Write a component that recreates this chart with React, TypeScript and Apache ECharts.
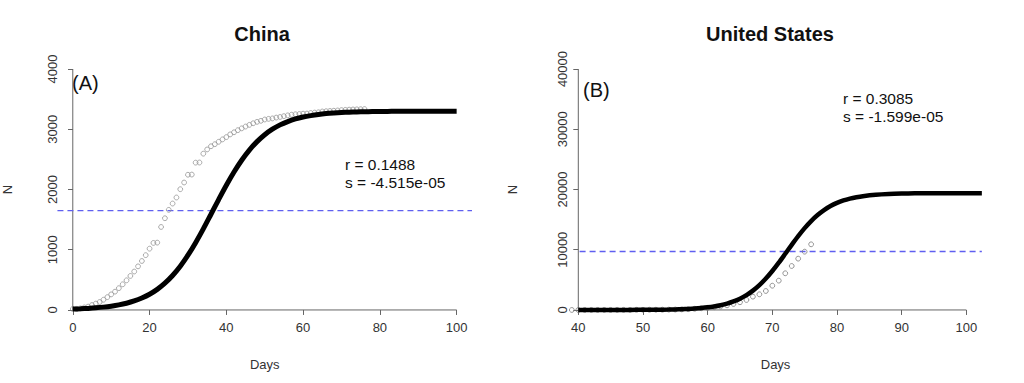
import React, { useEffect, useRef } from "react";
import * as echarts from "echarts";

// ---------- Data ----------
// Panel A: China
const chinaObsDays = [
  0, 1, 2, 3, 4, 5, 6, 7, 8, 9, 10, 11, 12, 13, 14, 15, 16, 17, 18, 19, 20, 21, 22, 23, 24, 25, 26, 27, 28, 29,
  30, 31, 32, 33, 34, 35, 36, 37, 38, 39, 40, 41, 42, 43, 44, 45, 46, 47, 48, 49, 50, 51, 52, 53, 54, 55, 56, 57,
  58, 59, 60, 61, 62, 63, 64, 65, 66, 67, 68, 69, 70, 71, 72, 73, 74, 75, 76,
];
const chinaObsN = [
  17, 18, 26, 42, 56, 82, 106, 132, 170, 213, 259, 304, 362, 426, 492, 565, 638, 724, 813, 910, 1018, 1113, 1118,
  1378, 1523, 1662, 1767, 1867, 2005, 2116, 2245, 2248, 2446, 2448, 2595, 2665, 2718, 2752, 2792, 2832, 2870, 2915,
  2950, 2985, 3015, 3045, 3073, 3100, 3123, 3140, 3162, 3173, 3180, 3194, 3204, 3218, 3231, 3242, 3249, 3253, 3259,
  3261, 3270, 3277, 3282, 3295, 3300, 3304, 3308, 3312, 3318, 3322, 3326, 3329, 3331, 3333, 3335,
];
const chinaFitDays = [
  0, 2, 4, 6, 8, 10, 12, 14, 16, 18, 20, 22, 24, 26, 28, 30, 32, 34, 36, 38, 40, 42, 44, 46, 48, 50, 52, 54, 56, 58,
  60, 62, 64, 66, 68, 70, 72, 74, 76, 78, 80, 82, 84, 86, 88, 90, 92, 94, 96, 98, 100,
];
const chinaFitN = [
  14, 19, 26, 35, 47, 63, 84, 112, 149, 198, 261, 342, 445, 572, 726, 909, 1117, 1346, 1589, 1833, 2070, 2290, 2486,
  2654, 2795, 2910, 3001, 3073, 3128, 3171, 3203, 3227, 3246, 3260, 3270, 3278, 3284, 3288, 3291, 3294, 3295, 3297,
  3298, 3298, 3299, 3299, 3299, 3300, 3300, 3300, 3300,
];
const chinaHalfK = 1650;
const chinaHalfKSpan = [-4, 104];
const chinaXTicks = [0, 20, 40, 60, 80, 100];
const chinaYTicks = [0, 1000, 2000, 3000, 4000];
const chinaParams = ["r = 0.1488", "s = -4.515e-05"];

// Panel B: United States
const usObsDays = [
  39, 40, 41, 42, 43, 44, 45, 46, 47, 48, 49, 50, 51, 52, 53, 54, 55, 56, 57, 58, 59, 60, 61, 62, 63, 64, 65, 66, 67,
  68, 69, 70, 71, 72, 73, 74, 75, 76,
];
const usObsN = [
  1, 1, 2, 6, 9, 11, 12, 15, 19, 22, 26, 30, 38, 41, 48, 58, 73, 99, 133, 200, 280, 360, 450, 580, 770, 1000, 1280,
  1660, 2210, 2600, 3150, 4030, 4870, 6090, 7300, 8520, 9680, 10900,
];
const usFitDays = [
  40, 42, 44, 46, 48, 50, 52, 54, 55, 56, 57, 58, 59, 60, 61, 62, 63, 64, 65, 66, 67, 68, 69, 70, 71, 72, 73, 74, 75,
  76, 77, 78, 79, 80, 81, 82, 83, 84, 86, 88, 90, 92, 94, 96, 98, 100, 102.4,
];
const usFitN = [
  1, 2, 3, 6, 11, 20, 37, 69, 94, 128, 174, 236, 321, 433, 585, 788, 1053, 1412, 1872, 2462, 3206, 4119, 5207, 6462,
  7851, 9327, 10819, 12255, 13585, 14759, 15759, 16585, 17249, 17772, 18177, 18487, 18720, 18897, 19125, 19251, 19319,
  19357, 19377, 19388, 19394, 19397, 19398,
];
const usHalfK = 9700;
const usHalfKSpan = [40.2, 102.4];
const usXTicks = [40, 50, 60, 70, 80, 90, 100];
const usYTicks = [0, 10000, 20000, 30000, 40000];
const usParams = ["r = 0.3085", "s = -1.599e-05"];

const FONT = "'Liberation Sans', Arial, Helvetica, sans-serif";
const AXIS_COLOR = "#666";
const LABEL_COLOR = "#333";
const DASH_COLOR = "#5f5ff0";

const zip = (xs: number[], ys: number[]) => xs.map((x, i) => [x, ys[i]]);
const plainNumber = (v: number) => String(v);

function axisLineSeries(xIdx: number, from: number[], to: number[]) {
  return {
    type: "line",
    xAxisIndex: xIdx,
    yAxisIndex: xIdx,
    data: [from, to],
    symbol: "none",
    silent: true,
    lineStyle: { color: AXIS_COLOR, width: 1 },
    z: 1,
  };
}

function makeXAxis(gridIndex: number, min: number, max: number, ticks: number[], offset: number) {
  return {
    type: "value",
    gridIndex,
    min,
    max,
    offset,
    axisLine: { show: false },
    axisTick: { show: true, length: 5, customValues: ticks, lineStyle: { color: AXIS_COLOR, width: 1 } },
    axisLabel: {
      customValues: ticks,
      formatter: plainNumber,
      margin: 11,
      fontSize: 13,
      color: LABEL_COLOR,
      fontFamily: FONT,
    },
    splitLine: { show: false },
    name: "Days",
    nameLocation: "middle",
    nameGap: 48,
    nameTextStyle: { fontSize: 13, color: LABEL_COLOR, fontFamily: FONT },
  };
}

function makeYAxis(gridIndex: number, min: number, max: number, ticks: number[], offset: number, margin: number) {
  return {
    type: "value",
    gridIndex,
    min,
    max,
    offset,
    axisLine: { show: false },
    axisTick: { show: true, length: 5, customValues: ticks, lineStyle: { color: AXIS_COLOR, width: 1 } },
    axisLabel: {
      customValues: ticks,
      formatter: plainNumber,
      rotate: 90,
      margin,
      fontSize: 13,
      color: LABEL_COLOR,
      fontFamily: FONT,
    },
    splitLine: { show: false },
    name: "N",
    nameLocation: "middle",
    nameGap: 59,
    nameTextStyle: { fontSize: 13, color: LABEL_COLOR, fontFamily: FONT },
  };
}

function textEl(x: number, y: number, text: string, size: number, weight: string, align: string) {
  return {
    type: "text",
    x,
    y,
    silent: true,
    style: {
      text,
      fill: "#111",
      font: `${weight} ${size}px ${FONT}`,
      textAlign: align,
      textVerticalAlign: "middle",
    },
  };
}

function dashedSeries(idx: number, span: number[], value: number) {
  return {
    type: "line",
    xAxisIndex: idx,
    yAxisIndex: idx,
    data: [
      [span[0], value],
      [span[1], value],
    ],
    symbol: "none",
    silent: true,
    lineStyle: { color: DASH_COLOR, width: 1.4, type: [6, 4] },
    itemStyle: { color: DASH_COLOR },
    z: 2,
  };
}

export default function App() {
  const ref = useRef<HTMLDivElement>(null);

  useEffect(() => {
    if (!ref.current) return;
    const chart = echarts.init(ref.current, undefined, { renderer: "svg" });

    const option = {
      animation: false,
      backgroundColor: "#fff",
      grid: [
        { left: 52, top: 59.4, width: 420, height: 260.2 },
        { left: 558.9, top: 59.4, width: 433.3, height: 260.2 },
      ],
      xAxis: [makeXAxis(0, -4, 104, chinaXTicks, -9.6), makeXAxis(1, 37, 104, usXTicks, -9.6)],
      yAxis: [
        makeYAxis(0, -160, 4160, chinaYTicks, -15.56, 14),
        makeYAxis(1, -1600, 41600, usYTicks, -19.4, 9),
      ],
      graphic: [
        textEl(262, 34, "China", 20, "bold", "center"),
        textEl(770, 34, "United States", 20, "bold", "center"),
        textEl(72, 83, "(A)", 20, "normal", "left"),
        textEl(583, 90, "(B)", 20, "normal", "left"),
        textEl(345, 164, chinaParams[0], 15.5, "normal", "left"),
        textEl(345, 182, chinaParams[1], 15.5, "normal", "left"),
        textEl(843, 98, usParams[0], 15.5, "normal", "left"),
        textEl(843, 116, usParams[1], 15.5, "normal", "left"),
      ],
      series: [
        // Panel A
        axisLineSeries(0, [chinaXTicks[0], 0], [chinaXTicks[chinaXTicks.length - 1], 0]),
        axisLineSeries(0, [0, chinaYTicks[0]], [0, chinaYTicks[chinaYTicks.length - 1]]),
        dashedSeries(0, chinaHalfKSpan, chinaHalfK),
        {
          type: "scatter",
          xAxisIndex: 0,
          yAxisIndex: 0,
          data: zip(chinaObsDays, chinaObsN),
          symbol: "circle",
          symbolSize: 4.8,
          silent: true,
          itemStyle: { color: "rgba(0,0,0,0)", borderColor: "#959595", borderWidth: 1 },
        },
        {
          type: "line",
          xAxisIndex: 0,
          yAxisIndex: 0,
          data: zip(chinaFitDays, chinaFitN),
          showSymbol: false,
          symbol: "none",
          smooth: 0.3,
          silent: true,
          lineStyle: { color: "#000", width: 5 },
          z: 3,
        },
        // Panel B
        axisLineSeries(1, [usXTicks[0], 0], [usXTicks[usXTicks.length - 1], 0]),
        axisLineSeries(1, [usXTicks[0], usYTicks[0]], [usXTicks[0], usYTicks[usYTicks.length - 1]]),
        dashedSeries(1, usHalfKSpan, usHalfK),
        {
          type: "scatter",
          xAxisIndex: 1,
          yAxisIndex: 1,
          data: zip(usObsDays, usObsN),
          symbol: "circle",
          symbolSize: 4.8,
          silent: true,
          itemStyle: { color: "rgba(0,0,0,0)", borderColor: "#7a7a7a", borderWidth: 1 },
        },
        {
          type: "line",
          xAxisIndex: 1,
          yAxisIndex: 1,
          data: zip(usFitDays, usFitN),
          showSymbol: false,
          symbol: "none",
          smooth: 0.3,
          silent: true,
          lineStyle: { color: "#000", width: 4.5 },
          z: 3,
        },
      ],
    };

    chart.setOption(option as any);
    return () => chart.dispose();
  }, []);

  return (
    <div
      ref={ref}
      style={{ position: "absolute", left: 0, top: 0, width: 1024, height: 383, background: "#fff" }}
    />
  );
}
